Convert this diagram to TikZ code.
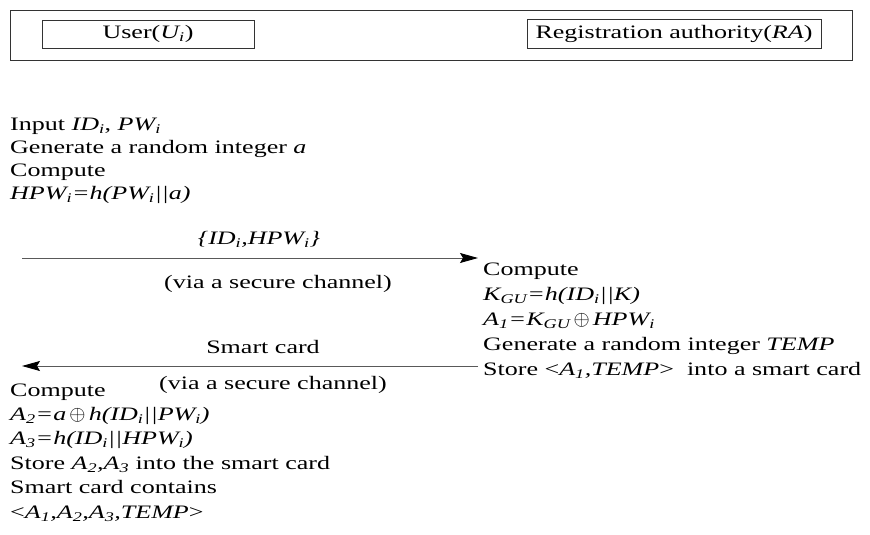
\documentclass[tikz,border=0pt]{standalone}
\usepackage{fontspec}
\setmainfont{Liberation Serif}[FakeStretch=1.37]
\usetikzlibrary{arrows.meta}
\newcommand\sbs[1]{\textsubscript{#1}}
\newcommand\xorop{\,{\fontsize{20}{24}\selectfont$\oplus$}\,}
\tikzset{
  frame/.style={draw=black!80, line width=0.9pt, inner sep=0pt},
  txt/.style={anchor=west, inner sep=0pt, text height=0.7em, text depth=0.25em},
  lbl/.style={inner sep=0pt, text height=0.7em, text depth=0.25em},
  msg/.style={draw=black!65, line width=0.9pt,
    -{Stealth[length=18pt,width=10pt,inset=3pt,color=black,fill=black]}}
}
\begin{document}
\begin{tikzpicture}[x=1pt,y=-1pt,font=\fontsize{19}{24}\selectfont]
\useasboundingbox (0,0) rectangle (870,535);

% header with the two parties
\node[frame, minimum width=842pt, minimum height=50pt] (head) at (431,35) {};
\node[frame, minimum width=212pt, minimum height=28pt] (user) at (148,34)
  {User(\textit{U\sbs{i}})};
\node[frame, minimum width=294pt, minimum height=29pt] (ra) at (674,34)
  {Registration authority(\textit{RA})};

% user: first step
\node[txt] (u1) at (10,128) {Input \textit{ID\sbs{i}}, \textit{PW\sbs{i}}};
\node[txt] (u2) at (10,151) {Generate a random integer \textit{a}};
\node[txt] (u3) at (10,174) {Compute};
\node[txt] (u4) at (10,197) {\textit{HPW\sbs{i}=h(PW\sbs{i}\textbar\textbar a)}};

% registration request
\coordinate (r1s) at (22,258);
\coordinate (r1e) at (478,258);
\draw[msg] (r1s) -- (r1e);
\node[lbl] (m1) at (259,242) {\textit{\{ID\sbs{i},HPW\sbs{i}\}}};
\node[lbl] (c1) at (278,286) {(via a secure channel)};

% registration authority
\node[txt] (s1) at (483,273) {Compute};
\node[txt] (s2) at (483,298) {\textit{K\sbs{GU}=h(ID\sbs{i}\textbar\textbar K)}};
\node[txt] (s3) at (483,323) {\textit{A\sbs{1}=K\sbs{GU}}\xorop\textit{HPW\sbs{i}}};
\node[txt] (s4) at (483,348) {Generate a random integer \textit{TEMP}};
\node[txt] (s5) at (483,373) {Store \textless\textit{A\sbs{1},TEMP}\textgreater\ \ into a smart card};

% smart card issued back to the user
\coordinate (r2s) at (478,366);
\coordinate (r2e) at (22,366);
\draw[msg] (r2s) -- (r2e);
\node[lbl] (m2) at (263,351) {Smart card};
\node[lbl] (c2) at (273,387) {(via a secure channel)};

% user: storing values on the card
\node[txt] (v1) at (10,394) {Compute};
\node[txt] (v2) at (10,418) {\textit{A\sbs{2}=a}\xorop\textit{h(ID\sbs{i}\textbar\textbar PW\sbs{i})}};
\node[txt] (v3) at (10,442) {\textit{A\sbs{3}=h(ID\sbs{i}\textbar\textbar HPW\sbs{i})}};
\node[txt] (v4) at (10,467) {Store \textit{A\sbs{2},A\sbs{3}} into the smart card};
\node[txt] (v5) at (10,491) {Smart card contains};
\node[txt] (v6) at (10,516) {\textless\textit{A\sbs{1},A\sbs{2},A\sbs{3},TEMP}\textgreater};
\end{tikzpicture}
\end{document}
